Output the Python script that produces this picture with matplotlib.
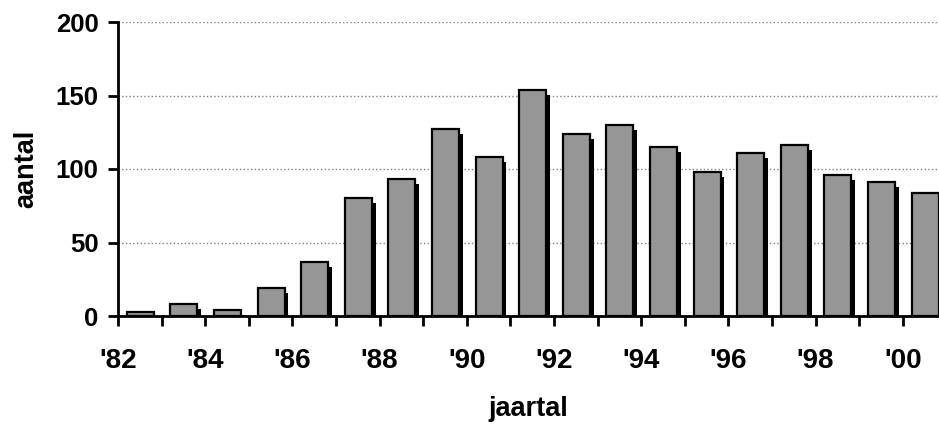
import matplotlib
matplotlib.use("Agg")
import matplotlib.pyplot as plt
import numpy as np

plt.rcParams['font.family'] = ['Liberation Sans', 'DejaVu Sans']
plt.rcParams['font.weight'] = 'bold'

years = list(range(1982, 2001))
aantal = [3, 8, 4, 19, 37, 80, 93, 127, 108, 154, 124, 130, 115, 98, 111, 116, 96, 91, 84]
tick_labels = ["'82", "'84", "'86", "'88", "'90", "'92", "'94", "'96", "'98", "'00"]

fig = plt.figure(figsize=(9.39, 4.25), dpi=100)
ax = fig.add_axes([118 / 939, 109 / 425, 1 - 118 / 939, 294 / 425])

x = np.arange(len(years))
w = 0.62
# schaduw achter de balken
shadow = [max(v - 3.4, 0) for v in aantal]
ax.bar(x + 0.51 + 0.09, shadow, width=w, color='black', zorder=2)
ax.bar(x + 0.51, aantal, width=w, color='#969696', edgecolor='black', linewidth=1.6, zorder=3)

ax.set_ylim(0, 200)
ax.set_xlim(0, 821 / 43.6)
ax.set_yticks([0, 50, 100, 150, 200])
ax.set_xticks(np.arange(0, 19))
ax.set_xticklabels([tick_labels[i // 2] if i % 2 == 0 else '' for i in range(19)])
ax.yaxis.grid(True, linestyle=':', color='#808080', linewidth=1)
ax.set_axisbelow(True)

for s in ['top', 'right']:
    ax.spines[s].set_visible(False)
for s in ['left', 'bottom']:
    ax.spines[s].set_linewidth(2)
ax.tick_params(axis='y', length=7, width=2, labelsize=18.5, pad=7)
ax.tick_params(axis='x', length=7, width=2, labelsize=20, pad=16)

ax.set_xlabel("jaartal", fontsize=19.5, fontweight='bold', labelpad=16)
ax.set_ylabel("aantal", fontsize=19.5, fontweight='bold', labelpad=12)

fig.savefig("out.png", dpi=100)
